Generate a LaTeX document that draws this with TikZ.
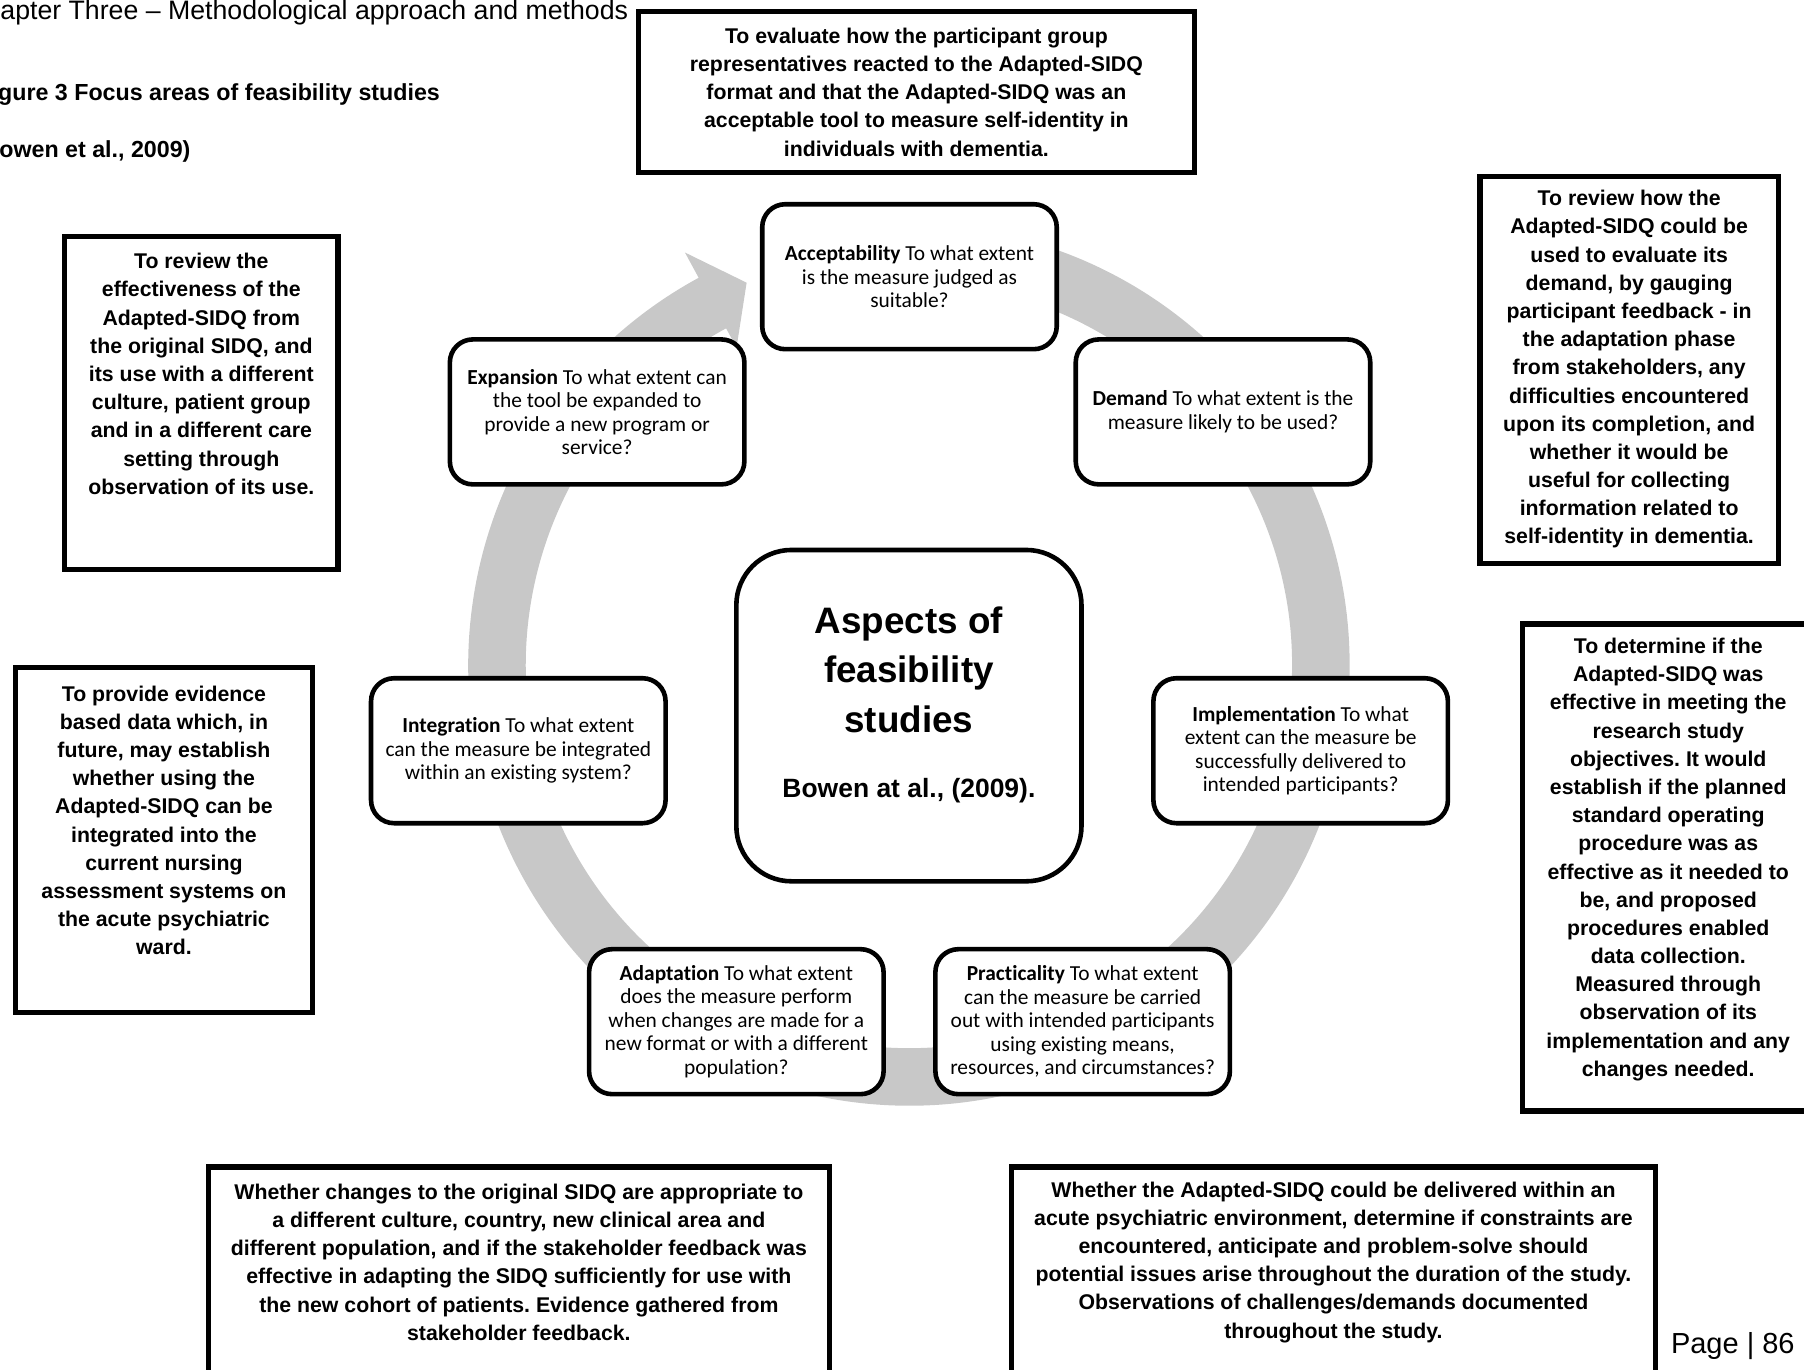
\documentclass[tikz,border=0pt]{standalone}
\usepackage{fontspec}
\setmainfont[Ligatures=NoCommon]{Liberation Sans}
\newfontfamily\calib[Ligatures=NoCommon]{Carlito}
\usetikzlibrary{calc}
\definecolor{ringgray}{RGB}{200,200,200}
\frenchspacing

\begin{document}
\begin{tikzpicture}[x=0.5pt,y=-0.5pt,
  goal/.style={draw=black, line width=2.3pt, fill=white, inner sep=0pt},
  goaltext/.style={align=center, inner sep=0pt,
    font=\bfseries\fontsize{9.25}{12.25}\selectfont},
  aspectbox/.style={draw=black, line width=2pt, fill=white, rounded corners=10pt,
    minimum width=128pt, minimum height=63pt, inner sep=0pt, align=center,
    font=\calib\fontsize{9.3}{10.2}\selectfont},
  hubbox/.style={draw=black, line width=2pt, fill=white, rounded corners=24pt,
    minimum width=150pt, minimum height=144pt, inner sep=0pt},
  header/.style={anchor=base west, inner sep=0pt}
]
\useasboundingbox (0,0) rectangle (1568,1190);
\clip (0,0) rectangle (1568,1190);

% page header and caption
\node[header, font=\fontsize{11.6}{14}\selectfont] (chapter) at (0,17)
  {apter Three – Methodological approach and methods};
\node[header, font=\bfseries\fontsize{10.1}{12}\selectfont] (figcap) at (-2,87)
  {gure 3 Focus areas of feasibility studies};
\node[header, font=\bfseries\fontsize{10.1}{12}\selectfont] (figsrc) at (-1,137)
  {owen et al., 2009)};

% grey circular arrow behind the aspects
\begin{scope}[shift={(790,578)}, yscale=-1]
  \fill[ringgray] (80:383) arc[start angle=80, end angle=-241.5, radius=383]
    -- (-241.5:408) -- (-247:361) -- (-241.5:314) -- (-241.5:333)
    arc[start angle=-241.5, end angle=80, radius=333] -- cycle;
\end{scope}

% aspects of feasibility
\node[aspectbox] (accept) at (790.5,240.5)
  {\textbf{Acceptability} To what extent\\is the measure judged as\\suitable?};
\node[aspectbox] (demand) at (1063,358)
  {\textbf{Demand} To what extent is the\\measure likely to be used?};
\node[aspectbox] (implement) at (1130.5,652.5)
  {\textbf{Implementation} To what\\extent can the measure be\\successfully delivered to\\intended participants?};
\node[aspectbox] (practical) at (941,888)
  {\textbf{Practicality} To what extent\\can the measure be carried\\out with intended participants\\using existing means,\\resources, and circumstances?};
\node[aspectbox] (adapt) at (640,888)
  {\textbf{Adaptation} To what extent\\does the measure perform\\when changes are made for a\\new format or with a different\\population?};
\node[aspectbox] (integrate) at (450.5,652.5)
  {\textbf{Integration} To what extent\\can the measure be integrated\\within an existing system?};
\node[aspectbox] (expand) at (519,358)
  {\textbf{Expansion} To what extent can\\the tool be expanded to\\provide a new program or\\service?};

% central hub
\node[hubbox] (hub) at (790,622) {};
\node[align=center, inner sep=0pt, font=\bfseries\fontsize{16}{21.5}\selectfont]
  (hubtitle) at (790,582) {Aspects of\\feasibility\\studies};
\node[inner sep=0pt, font=\bfseries\fontsize{11.5}{14}\selectfont]
  (hubref) at (790,687) {Bowen at al., (2009).};

% study goals for each aspect
\node[goal, minimum width=241.5pt, minimum height=70pt] (goalaccept) at (796.5,80) {};
\node[goaltext] at (796.5,80)
  {To evaluate how the participant group\\representatives reacted to the Adapted-SIDQ\\format and that the Adapted-SIDQ was an\\acceptable tool to measure self-identity in\\individuals with dementia.};

\node[goal, minimum width=118.75pt, minimum height=144.75pt] (goalexpand) at (175,350) {};
\node[goaltext] at (175,325)
  {To review the\\effectiveness of the\\Adapted-SIDQ from\\the original SIDQ, and\\its use with a different\\culture, patient group\\and in a different care\\setting through\\observation of its use.};

\node[goal, minimum width=129.25pt, minimum height=149.75pt] (goalintegrate) at (142.5,730) {};
\node[goaltext] at (142.5,713)
  {To provide evidence\\based data which, in\\future, may establish\\whether using the\\Adapted-SIDQ can be\\integrated into the\\current nursing\\assessment systems on\\the acute psychiatric\\ward.};

\node[goal, minimum width=129.75pt, minimum height=168.25pt] (goaldemand) at (1416,321.5) {};
\node[goaltext] at (1416,321)
  {To review how the\\Adapted-SIDQ could be\\used to evaluate its\\demand, by gauging\\participant feedback - in\\the adaptation phase\\from stakeholders, any\\difficulties encountered\\upon its completion, and\\whether it would be\\useful for collecting\\information related to\\self-identity in dementia.};

\node[goal, minimum width=126.75pt, minimum height=211.75pt] (goalimplement) at (1450,754) {};
\node[goaltext] at (1450,747)
  {To determine if the\\Adapted-SIDQ was\\effective in meeting the\\research study\\objectives. It would\\establish if the planned\\standard operating\\procedure was as\\effective as it needed to\\be, and proposed\\procedures enabled\\data collection.\\Measured through\\observation of its\\implementation and any\\changes needed.};

\node[goal, minimum width=269.75pt, minimum height=99.25pt] (goaladapt) at (451,1113.5) {};
\node[goaltext] at (451,1097)
  {Whether changes to the original SIDQ are appropriate to\\a different culture, country, new clinical area and\\different population, and if the stakeholder feedback was\\effective in adapting the SIDQ sufficiently for use with\\the new cohort of patients. Evidence gathered from\\stakeholder feedback.};

\node[goal, minimum width=279.75pt, minimum height=99.25pt] (goalpractical) at (1159,1113.5) {};
\node[goaltext] at (1159,1097)
  {Whether the Adapted-SIDQ could be delivered within an\\acute psychiatric environment, determine if constraints are\\encountered, anticipate and problem-solve should\\potential issues arise throughout the duration of the study.\\Observations of challenges/demands documented\\throughout the study.};

% page number
\node[header, font=\fontsize{12.6}{14}\selectfont] (pagenum) at (1452,1176) {Page | 86};
\end{tikzpicture}
\end{document}
